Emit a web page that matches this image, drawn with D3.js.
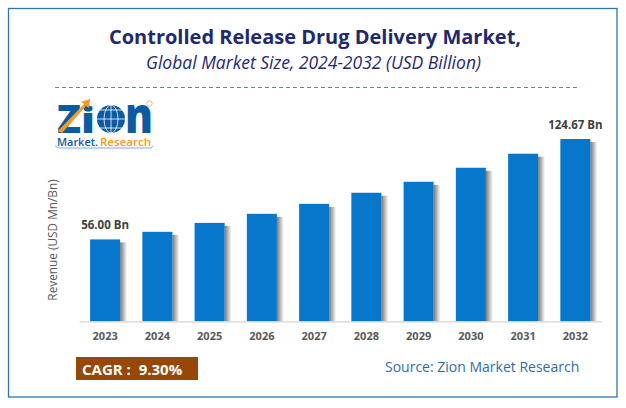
<!DOCTYPE html>
<html>
  <head>
    <script src="https://d3js.org/d3.v7.min.js"></script>
    <style>
      html, body { margin: 0; padding: 0; overflow: hidden; background: #fff; }
      text { font-family: "Open Sans", sans-serif; }
    </style>
  </head>
  <body>
    <div id="chart"></div>
    <script>
      const years = ["2023", "2024", "2025", "2026", "2027", "2028", "2029", "2030", "2031", "2032"];
      const revenue = [56.0, 61.2, 67.3, 73.5, 80.3, 87.9, 95.4, 105, 114.6, 124.67];
      const valueLabels = { "2023": "56.00 Bn", "2032": "124.67 Bn" };

      const width = 626, height = 408;
      const svg = d3.select("#chart").append("svg")
        .attr("width", width).attr("height", height);

      const defs = svg.append("defs");
      const shade = defs.append("linearGradient").attr("id", "shade");
      shade.append("stop").attr("offset", "0%").attr("stop-color", "#777777");
      shade.append("stop").attr("offset", "45%").attr("stop-color", "#b5b5b5");
      shade.append("stop").attr("offset", "100%").attr("stop-color", "#ffffff");

      // frame
      svg.append("rect")
        .attr("x", 8.5).attr("y", 8.5).attr("width", 608.5).attr("height", 388.5)
        .attr("fill", "#fff").attr("stroke", "#2e74b5").attr("stroke-width", 1.3);

      // titles
      svg.append("text").attr("x", 315).attr("y", 44)
        .attr("text-anchor", "middle").attr("font-size", 20).attr("font-weight", 700)
        .attr("fill", "#1f2a6e").text("Controlled Release Drug Delivery Market,");
      svg.append("text").attr("x", 313.5).attr("y", 69)
        .attr("text-anchor", "middle").attr("font-size", 17.5).attr("font-style", "italic")
        .attr("fill", "#1f2a6e").text("Global Market Size, 2024-2032 (USD Billion)");
      svg.append("line")
        .attr("x1", 55).attr("x2", 578).attr("y1", 87.5).attr("y2", 87.5)
        .attr("stroke", "#5b86c4").attr("stroke-dasharray", "4 3");

      // scales
      const x = d3.scaleBand().domain(years).range([79, 601.5]).paddingInner(0.425).paddingOuter(0.2125);
      const y = d3.scaleLinear().domain([0, 124.67]).range([321.3, 139]);

      const bars = svg.append("g").selectAll("g").data(years).enter().append("g");
      bars.append("rect")
        .attr("x", d => x(d) + x.bandwidth())
        .attr("y", (d, i) => y(revenue[i]) + 3)
        .attr("width", 7)
        .attr("height", (d, i) => y(0) - y(revenue[i]) - 3)
        .attr("fill", "url(#shade)");
      bars.append("rect")
        .attr("x", d => x(d))
        .attr("y", (d, i) => y(revenue[i]))
        .attr("width", x.bandwidth())
        .attr("height", (d, i) => y(0) - y(revenue[i]))
        .attr("fill", "#0777cb");

      // x axis
      const axis = svg.append("g").attr("transform", `translate(0,${y(0)})`)
        .call(d3.axisBottom(x).tickSize(0).tickPadding(11));
      axis.select(".domain").attr("stroke", "#d4d4d4").attr("stroke-width", 1.2);
      axis.selectAll("text").attr("font-size", 11).attr("font-weight", 700)
        .attr("fill", "#595959").style("font-family", '"Open Sans", sans-serif');

      // value labels
      svg.append("g").selectAll("text").data(years.filter(d => valueLabels[d])).enter().append("text")
        .attr("x", d => x(d) + x.bandwidth() / 2)
        .attr("y", d => y(revenue[years.indexOf(d)]) - 10)
        .attr("text-anchor", "middle").attr("font-size", 11.5).attr("font-weight", 700)
        .attr("fill", "#404040").text(d => valueLabels[d]);

      svg.append("text").attr("transform", "translate(57,240) rotate(-90)")
        .attr("text-anchor", "middle").attr("font-size", 11.8).attr("fill", "#595959")
        .text("Revenue (USD Mn/Bn)");

      // CAGR box and source
      svg.append("rect").attr("x", 76).attr("y", 357).attr("width", 122).attr("height", 23).attr("fill", "#974706");
      svg.append("text").attr("x", 82).attr("y", 374.5).attr("font-size", 15).attr("font-weight", 700)
        .attr("fill", "#fff").attr("xml:space", "preserve").text("CAGR :  9.30%");
      svg.append("text").attr("x", 385).attr("y", 372).attr("font-size", 14)
        .attr("fill", "#2e6da4").text("Source: Zion Market Research");

      // logo
      const logo = svg.append("g");
      logo.append("text").attr("x", 57).attr("y", 133).attr("font-size", 38).attr("font-weight", 800)
        .attr("fill", "#0b5aa2").attr("textLength", 24).attr("lengthAdjust", "spacingAndGlyphs").text("Z");
      logo.append("text").attr("x", 81).attr("y", 133).attr("font-size", 36).attr("font-weight", 800)
        .attr("fill", "#0b5aa2").attr("textLength", 14).attr("lengthAdjust", "spacingAndGlyphs").text("i");
      logo.append("text").attr("x", 125).attr("y", 133).attr("font-size", 50).attr("font-weight", 800)
        .attr("fill", "#0b5aa2").attr("textLength", 28).attr("lengthAdjust", "spacingAndGlyphs").text("n");
      logo.append("circle").attr("cx", 111).attr("cy", 119).attr("r", 14).attr("fill", "#0b5aa2");
      logo.append("ellipse").attr("cx", 111).attr("cy", 119).attr("rx", 7).attr("ry", 14)
        .attr("fill", "none").attr("stroke", "#fff").attr("stroke-width", 0.8);
      logo.append("path").attr("d", "M97 119H125M100 110H122M100 128H122M111 105V133")
        .attr("fill", "none").attr("stroke", "#fff").attr("stroke-width", 0.8);
      logo.append("path").attr("d", "M58 131L84 104L81 102L90 99L89 108L86 106L62 133Z").attr("fill", "#f59b23");
      logo.append("circle").attr("cx", 149.5).attr("cy", 103.5).attr("r", 2.7)
        .attr("fill", "none").attr("stroke", "#f5a94a").attr("stroke-width", 0.8);
      logo.append("text").attr("x", 57).attr("y", 145.5).attr("font-size", 11).attr("font-weight", 600)
        .attr("fill", "#0b5aa2").attr("textLength", 41).attr("lengthAdjust", "spacingAndGlyphs").text("Market.");
      logo.append("text").attr("x", 100).attr("y", 145.5).attr("font-size", 11).attr("font-weight", 600)
        .attr("fill", "#f59b23").attr("textLength", 51).attr("lengthAdjust", "spacingAndGlyphs").text("Research");
      logo.append("path").attr("d", "M55 146Q57 148 60 148H150Q152 148 153 146")
        .attr("fill", "none").attr("stroke", "#5b9bd5").attr("stroke-width", 0.8);
    </script>
  </body>
</html>
